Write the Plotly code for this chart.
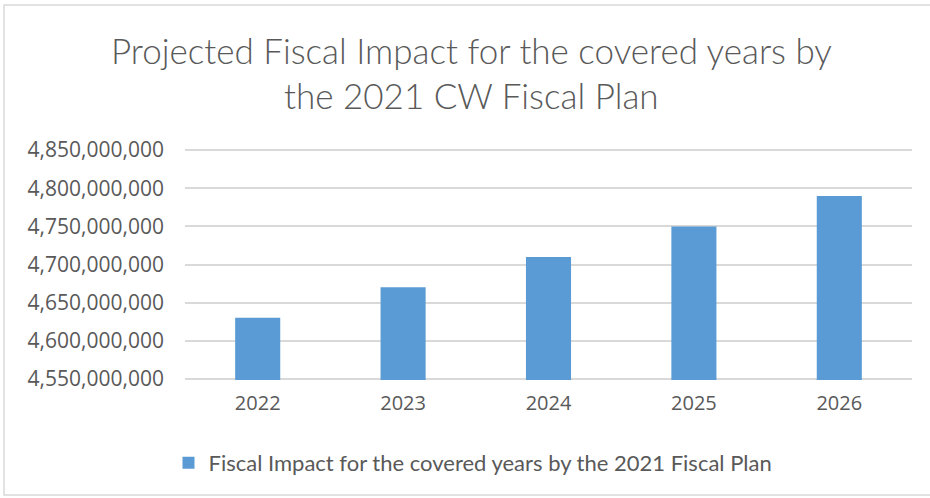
import plotly.graph_objects as go

years = ["2022", "2023", "2024", "2025", "2026"]
fiscal_impact = [4630000000, 4670000000, 4710000000, 4750000000, 4790000000]
y_ticks = [4550000000, 4600000000, 4650000000, 4700000000, 4750000000, 4800000000, 4850000000]
series_name = "Fiscal Impact for the covered years by the 2021 Fiscal Plan"
title_lines = ["Projected Fiscal Impact for the covered years by", "the 2021 CW Fiscal Plan"]

TXT = "#595959"
L, R, T, B = 185, 18, 149, 118
W, H = 930, 498
pw, ph = W - L - R, H - T - B

fig = go.Figure()
fig.add_trace(go.Bar(
    x=years, y=fiscal_impact, name=series_name,
    marker=dict(color="#5b9bd5", line=dict(width=0)),
    width=0.31,
))

fig.update_layout(
    width=W, height=H,
    margin=dict(l=L, r=R, t=T, b=B),
    paper_bgcolor="white", plot_bgcolor="white",
    font=dict(family="Open Sans", color=TXT),
    showlegend=True,
    legend=dict(
        orientation="h", x=(473 - L) / pw, xanchor="center", y=-(463 - (H - B)) / ph, yanchor="middle",
        font=dict(family="Lato", size=22, color=TXT),
        itemwidth=30,
    ),
    xaxis=dict(
        type="category", showgrid=False, zeroline=False,
        showline=False, ticks="",
        tickfont=dict(family="Open Sans", size=20, color=TXT),
        ticklabelstandoff=9,
    ),
    yaxis=dict(
        range=[4548500000, 4851500000],
        tickvals=y_ticks,
        ticktext=[f"{v:,}" for v in y_ticks],
        showgrid=True, gridcolor="#d9d9d9", gridwidth=1.5,
        zeroline=False, showline=False, ticks="",
        tickfont=dict(family="Open Sans", size=21, color=TXT),
        ticklabelstandoff=20,
    ),
)

# title lines
for line, ypx in zip(title_lines, [50, 95]):
    fig.add_annotation(
        text=line, xref="paper", yref="paper",
        x=(471 - L) / pw, y=(H - B - ypx) / ph,
        xanchor="center", yanchor="middle", showarrow=False,
        font=dict(family="Lato", size=35, color=TXT, weight=300),
    )

# outer border
fig.add_shape(
    type="rect", xref="paper", yref="paper",
    x0=(4 - L) / pw, x1=(940 - L) / pw,
    y0=(H - B - 495) / ph, y1=(H - B - 5) / ph,
    line=dict(color="#d9d9d9", width=1.5), fillcolor="rgba(0,0,0,0)", layer="below",
)

fig.write_html("out.html")
